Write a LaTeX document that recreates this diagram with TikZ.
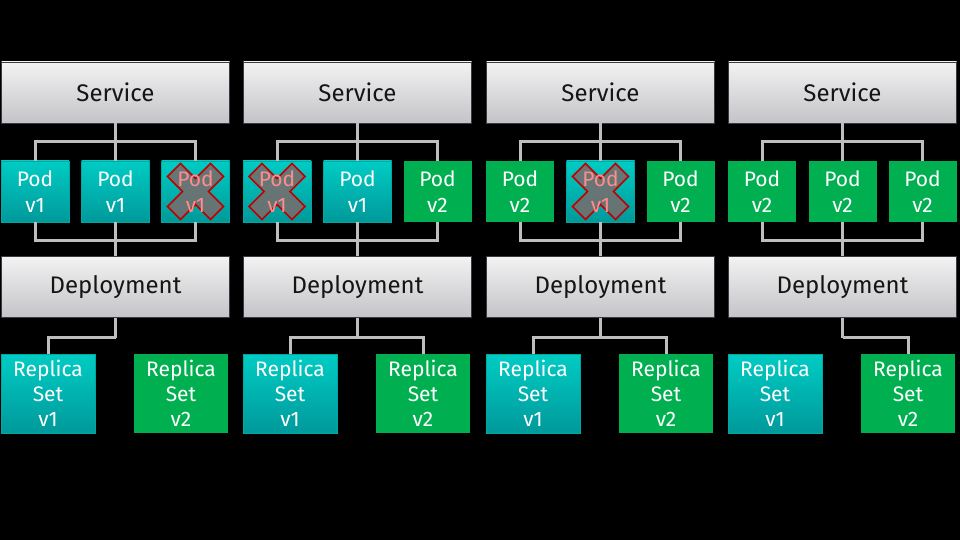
\documentclass[tikz,border=0pt]{standalone}
\usepackage{fontspec}
\setmainfont{Fira Sans}
\definecolor{gtop}{HTML}{F2F2F2}
\definecolor{gbot}{HTML}{C4C4C8}
\definecolor{gborder}{HTML}{3A3A44}
\definecolor{ttop}{HTML}{00CCC4}
\definecolor{tbot}{HTML}{00999A}
\definecolor{tborder}{HTML}{00A8A4}
\definecolor{grn}{HTML}{00B050}
\definecolor{wire}{HTML}{BEBEBE}
\definecolor{xred}{HTML}{C00000}
\definecolor{xgray}{HTML}{707070}
\definecolor{xtext}{HTML}{FF8C8C}
\definecolor{svctext}{HTML}{151515}
\newcommand\kpanel[9]{%
\begin{scope}[xshift=#1pt]
\node[greybox] (#2svc) at (115.5,92.5) {Service};
\node[#3] (#2p1) at (35,191.5) {Pod\\v#4};
\node[#5] (#2p2) at (115.5,191.5) {Pod\\v#6};
\node[#7] (#2p3) at (195.5,191.5) {Pod\\v#8};
\node[greybox] (#2dep) at (115.5,287) {Deployment};
\node[rsv1] (#2rs1) at (48,393.5) {Replica\\Set\\v1};
\node[rsv2] (#2rs2) at (181,393.5) {Replica\\Set\\v2};
\draw[wirest] (#2svc) -- (#2p2);
\draw[wirest] (#2p1.north) -- ++(0,-19) -| (#2p3.north);
\draw[wirest] (#2p1.south) -- ++(0,18) -| (#2p3.south);
\draw[wirest] (#2p2) -- (#2dep);
\draw[wirest] (#2dep.south) -- ++(0,20) coordinate (#2j);
\ifcase#9\or
\draw[wirest] (#2j) -| (#2rs1.north);
\or
\draw[wirest] (#2j) -| (#2rs2.north);
\or
\draw[wirest] (#2j) -| (#2rs1.north);
\draw[wirest] (#2j) -| (#2rs2.north);
\fi
\end{scope}}
\newcommand\deadmark[1]{%
\filldraw[xst, shift={(#1.center)}]
  (-28,-15) -- (-15,-28) -- (0,-13) -- (15,-28) -- (28,-15) -- (13,0) -- (28,15)
  -- (15,28) -- (0,13) -- (-15,28) -- (-28,15) -- (-13,0) -- cycle;
\node[podbase, text=xtext] (#1txt) at (#1.center) {Pod\\v1};}
\begin{document}
\begin{tikzpicture}[x=1pt,y=-1pt,
  greybox/.style={draw=gborder, line width=0.8pt, top color=gtop, bottom color=gbot,
    minimum width=228pt, minimum height=61pt, inner sep=0pt,
    font=\fontsize{24}{28}\selectfont, text=svctext},
  podbase/.style={minimum width=68pt, minimum height=61pt, inner sep=0pt, align=center,
    font=\fontsize{21}{26}\selectfont, text=white},
  podv1/.style={podbase, draw=tborder, line width=0.6pt, top color=ttop, bottom color=tbot},
  podv2/.style={podbase, fill=grn},
  poddead/.style={podv1, text=xtext},
  xst/.style={draw=xred, fill=xgray, fill opacity=0.92, line width=1.6pt, line join=miter},
  rsv1/.style={podv1, minimum width=94pt, minimum height=79pt, font=\fontsize{21}{25}\selectfont},
  rsv2/.style={podv2, minimum width=94pt, minimum height=79pt, font=\fontsize{21}{25}\selectfont},
  wirest/.style={draw=wire, line width=3pt}]
\fill[black] (0,0) rectangle (960,540);
\useasboundingbox (0,0) rectangle (960,540);
\kpanel{0}{a}{podv1}{1}{podv1}{1}{poddead}{1}{1}
\kpanel{242}{b}{poddead}{1}{podv1}{1}{podv2}{2}{3}
\kpanel{485}{c}{podv2}{2}{poddead}{1}{podv2}{2}{3}
\kpanel{727}{d}{podv2}{2}{podv2}{2}{podv2}{2}{2}
\deadmark{ap3}
\deadmark{bp1}
\deadmark{cp2}
\end{tikzpicture}
\end{document}
